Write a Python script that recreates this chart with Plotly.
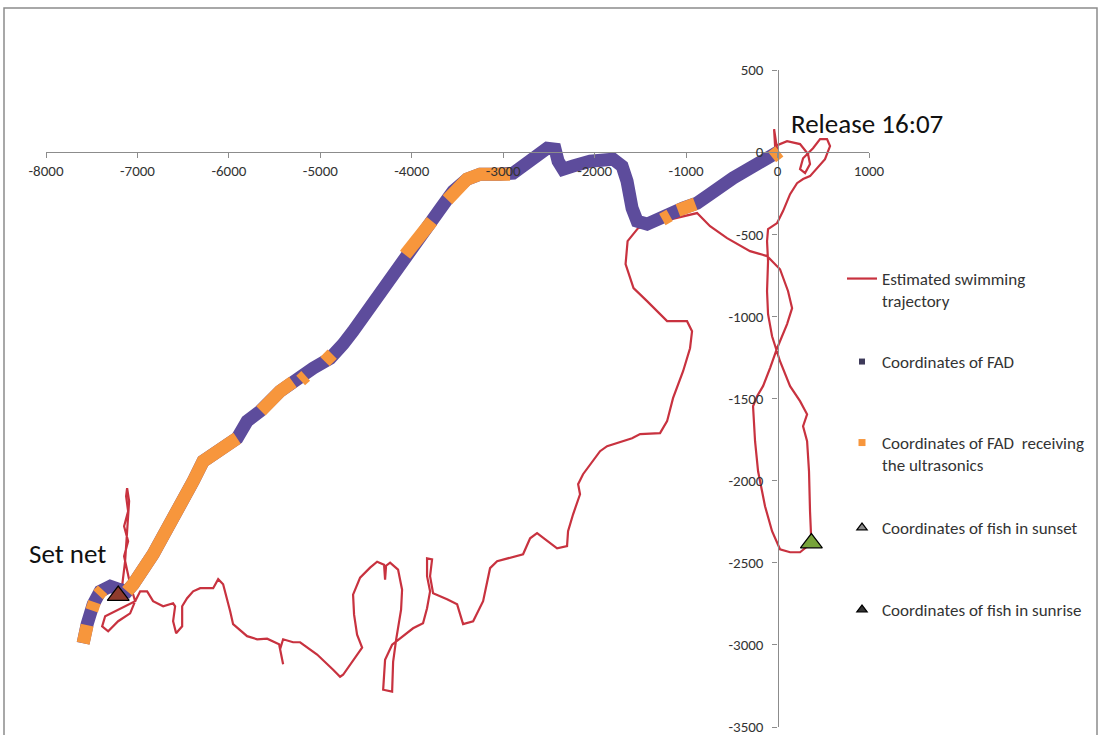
import plotly.graph_objects as go

# ---------------- data (metres, release point = origin) ----------------
traj_x = [0, -38, -27, 104, 246, 333, 355, 301, 246, 279, 388, 465, 541, 574, 519, 432, 355, 279, 213, 137, 60, -5,
          -104, -115, -104, -115, -104, -60, 27, 137, 246, 323, 279, 323, 344, 355, 370,
          246, 137, 27, -60, -137, -213, -246, -268, -224, -159, -82, -5, 104, 159, 115, 27, -115, -301, -552, -738,
          -880, -1175, -1394, -1525,
          -1640, -1662, -1575, -1427, -1285, -1208, -990, -935, -957, -1033, -1143, -1208, -1285, -1503, -1591,
          -1864, -1941, -2127, -2181, -2160, -2236, -2291, -2302, -2411, -2630, -2706, -2783, -3067, -3144, -3220,
          -3329, -3439, -3504, -3614, -3767, -3800, -3778, -3833, -3833, -3800, -3833, -3877, -3986, -4128,
          -4215, -4292, -4313, -4215, -4204, -4171, -4117, -4106, -4150, -4237, -4281, -4292, -4303, -4379, -4456,
          -4565, -4642, -4631, -4598, -4543, -4674, -4751, -4784, -4860, -5035, -5221, -5298, -5407, -5440, -5407,
          -5451, -5582, -5691, -5801, -5954, -5986, -6019, -6063, -6117, -6172, -6314, -6391, -6457, -6511, -6511,
          -6577, -6610, -6588, -6610, -6719, -6829, -6894, -6970, -7025, -7080, -7211, -7320, -7386, -7353, -7244,
          -7135, -7025, -7080, -7113, -7146, -7102, -7146, -7102, -7124, -7113, -7091, -7113, -7135, -7168, -7210]
traj_y = [0, 140, 37, 67, 49, -12, -73, -128, -104, -37, 24, 79, 79, 37, -43, -97, -146, -164, -189, -256, -359, -432,
          -469, -542, -664, -847, -987, -1121, -1273, -1425, -1516, -1596, -1669, -1760, -1943, -2186, -2380,
          -2436, -2436, -2418, -2308, -2156, -1943, -1760, -1547, -1486, -1425, -1315, -1194, -1047, -950, -847, -713,
          -633, -603, -524, -451, -371, -408, -438, -463,
          -542, -682, -828, -907, -987, -1029, -1029, -1090, -1194, -1334, -1498, -1638, -1711, -1717, -1742,
          -1790, -1821, -1961, -2022, -2083, -2205, -2308, -2399, -2412, -2320, -2351, -2448, -2491, -2533, -2734,
          -2856, -2874, -2753, -2722, -2686, -2582, -2479, -2473, -2582, -2674, -2777, -2868, -2899, -2960,
          -2999, -3091, -3273, -3285, -3103, -2968, -2785, -2664, -2542, -2499, -2518, -2603, -2512, -2494, -2530,
          -2591, -2694, -2816, -2938, -3017, -3121, -3182, -3194, -3151, -3059, -2984, -2984, -2966, -3026, -3118,
          -2996, -2962, -2966, -2947, -2874, -2795, -2716, -2631, -2600, -2655, -2655, -2674, -2716, -2765, -2887,
          -2929, -2856, -2765, -2747, -2765, -2734, -2674, -2674, -2734, -2808, -2856, -2917, -2887, -2826, -2795,
          -2765, -2734, -2631, -2552, -2460, -2369, -2278, -2186, -2095, -2046, -2125, -2308, -2491, -2643, -2700]

fad_x = [0, -224, -487, -738, -880, -1033, -1208, -1427, -1536, -1591, -1646, -1700, -1799, -1908, -2050, -2236,
         -2345, -2400, -2433, -2520, -2597, -2739, -2892, -3034, -3253, -3395, -3548, -3690, -3833, -3986, -4128,
         -4270, -4456, -4642, -4751, -4893, -5079, -5254, -5440, -5658, -5801, -5910, -6096, -6282, -6391, -6610,
         -6828, -7047, -7113, -7211, -7298, -7408, -7484, -7550, -7594]
fad_y = [0, -67, -158, -256, -311, -341, -390, -438, -420, -341, -177, -85, -43, -43, -55, -85, -104, -55, 18, 24,
         -6, -73, -128, -134, -134, -164, -238, -347, -463, -560, -682, -804, -950, -1090, -1169, -1255, -1315,
         -1376, -1456, -1577, -1638, -1742, -1803, -1882, -2004, -2247, -2448, -2631, -2674, -2661, -2643, -2674,
         -2753, -2874, -2990]

# FAD positions while receiving the ultrasonic signal (segments separated by None)
recv_x = [20, -60, None, -1260, -1180, None, -1090, -900, None,
          -2925, -3034, -3253, -3395, -3548, -3610, None,
          -3780, -3833, -3986, -4073, None, -4870, -4950, None, -5160, -5215, None,
          -5300, -5440, -5650, None,
          -5910, -6096, -6282, -6391, -6610, -6828, -7047, -7113, None,
          -7380, -7430, None, -7470, -7500, None, -7550, -7594]
recv_y = [5, -30, None, -410, -385, None, -355, -315, None,
          -134, -134, -134, -164, -238, -290, None,
          -420, -463, -560, -625, None, -1230, -1275, None, -1362, -1390, None,
          -1400, -1456, -1575, None,
          -1742, -1803, -1882, -2004, -2247, -2448, -2631, -2674, None,
          -2665, -2695, None, -2740, -2790, None, -2880, -2990]

sunset_x, sunset_y = [370], [-2380]
sunrise_x, sunrise_y = [-7210], [-2700]

x_ticks = [-8000, -7000, -6000, -5000, -4000, -3000, -2000, -1000, 0, 1000]
y_ticks = [500, 0, -500, -1000, -1500, -2000, -2500, -3000, -3500]

names = ["Estimated swimming<br>trajectory", "Coordinates of FAD",
         "Coordinates of FAD\u00a0 receiving<br>the ultrasonics",
         "Coordinates of fish in sunset", "Coordinates of fish in sunrise"]

# ---------------- styling ----------------
FONT = "Carlito, Calibri, Lato, sans-serif"
RED = "#C8323F"
PURPLE = "#5D4C9C"
ORANGE = "#F7963C"
W, H = 1099, 735
L, R, T, B = 46, 230, 70, 8

fig = go.Figure()
fig.add_trace(go.Scatter(x=traj_x, y=traj_y, mode="lines", line=dict(color=RED, width=2.2),
                         name=names[0], legend="legend"))
fig.add_trace(go.Scatter(x=fad_x, y=fad_y, mode="lines", line=dict(color=PURPLE, width=13),
                         showlegend=False))
fig.add_trace(go.Scatter(x=recv_x, y=recv_y, mode="lines", line=dict(color=ORANGE, width=13),
                         showlegend=False, connectgaps=False))
fig.add_trace(go.Scatter(x=sunset_x, y=sunset_y, mode="markers",
                         marker=dict(symbol="triangle-up", size=19, color="#77A33A",
                                     line=dict(color="#000000", width=1.2)), showlegend=False))
fig.add_trace(go.Scatter(x=sunrise_x, y=sunrise_y, mode="markers",
                         marker=dict(symbol="triangle-up", size=19, color="#8E3B2C",
                                     line=dict(color="#000000", width=1.2)), showlegend=False))
# legend-only entries
fig.add_trace(go.Scatter(x=[None], y=[None], mode="markers", name=names[1], legend="legend2",
                         marker=dict(symbol="square", size=6, color="#3E3A5A")))
fig.add_trace(go.Scatter(x=[None], y=[None], mode="markers", name=names[2], legend="legend3",
                         marker=dict(symbol="square", size=7, color=ORANGE)))
fig.add_trace(go.Scatter(x=[None], y=[None], mode="markers", name=names[3], legend="legend4",
                         marker=dict(symbol="triangle-up", size=9, color="#8C8C8C",
                                     line=dict(color="#000", width=1.2))))
fig.add_trace(go.Scatter(x=[None], y=[None], mode="markers", name=names[4], legend="legend5",
                         marker=dict(symbol="triangle-up", size=9, color="#333333",
                                     line=dict(color="#000", width=1.2))))

pw, ph = W - L - R, H - T - B


def px(xp):
    return (xp - L) / pw


def py(yp):
    return (H - B - yp) / ph


leg_common = dict(xanchor="left", yanchor="middle", bgcolor="rgba(0,0,0,0)",
                  font=dict(family=FONT, size=17, color="#333333"), valign="top",
                  itemwidth=30)
legend_rows = [290, 362, 454, 528, 610]
legend_layout = {}
for i, row in enumerate(legend_rows):
    key = "legend" if i == 0 else f"legend{i + 1}"
    legend_layout[key] = dict(x=px(842), y=py(row), **leg_common)

fig.update_layout(
    width=W, height=H,
    margin=dict(l=L, r=R, t=T, b=B),
    paper_bgcolor="white", plot_bgcolor="white",
    template="none",
    font=dict(family=FONT, size=15, color="#333333"),
    xaxis=dict(range=[-8000, 1000], anchor="free", position=3500 / 4000, domain=[0, 1],
               showgrid=False, zeroline=False, showline=True, linecolor="#8C8C8C", linewidth=1.2,
               ticks="outside", ticklen=5, tickcolor="#8C8C8C", tickvals=x_ticks,
               ticktext=[str(v) for v in x_ticks], automargin=False, ticklabeloverflow="allow",
               tickfont=dict(family=FONT, size=15, color="#333333")),
    yaxis=dict(range=[-3500, 500], anchor="free", position=8000 / 9000, domain=[0, 1],
               showgrid=False, zeroline=False, showline=True, linecolor="#8C8C8C", linewidth=1.2,
               ticks="outside", ticklen=5, tickcolor="#8C8C8C", tickvals=y_ticks,
               ticktext=[str(v) for v in y_ticks], automargin=False, ticklabelstandoff=6,
               ticklabeloverflow="allow",
               tickfont=dict(family=FONT, size=15, color="#333333")),
    annotations=[
        dict(x=120, y=175, xref="x", yref="y", text="Release 16:07", showarrow=False,
             xanchor="left", yanchor="middle", font=dict(family=FONT, size=27, color="#111111")),
        dict(x=px(27), y=py(553), xref="paper", yref="paper", text="Set net", showarrow=False,
             xanchor="left", yanchor="middle", font=dict(family=FONT, size=27, color="#111111")),
    ],
    shapes=[dict(type="rect", xref="paper", yref="paper", x0=px(4), x1=px(1097), y0=py(745), y1=py(8),
                 line=dict(color="#8C8C8C", width=1.5), fillcolor="rgba(0,0,0,0)", layer="below")],
    **legend_layout,
)

fig.write_html("out.html", config={"displayModeBar": False},
               post_script="document.body.style.margin='0px';")
